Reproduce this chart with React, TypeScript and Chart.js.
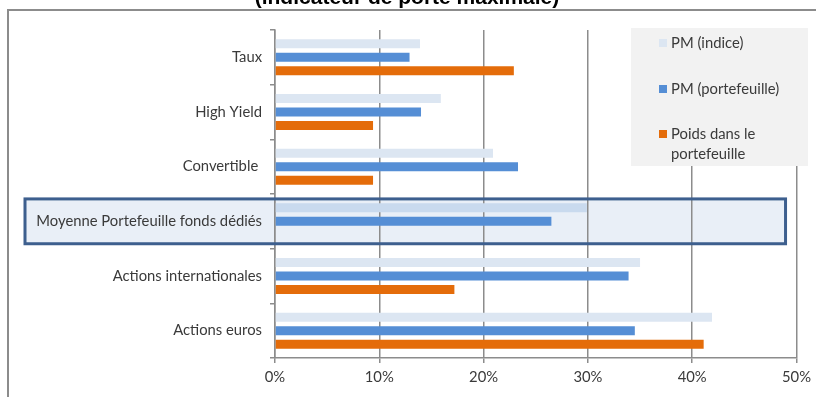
import React, { useEffect, useRef } from "react";
import { Chart, registerables } from "chart.js";

Chart.register(...registerables);

// Asset classes, top to bottom
const categories = [
  "Taux",
  "High Yield",
  "Convertible ",
  "Moyenne Portefeuille fonds dédiés",
  "Actions internationales",
  "Actions euros",
];

// Values in %
const pmIndice = [13.9, 15.9, 20.9, 29.9, 35.0, 41.9];
const pmPortefeuille = [12.9, 14.0, 23.3, 26.5, 33.9, 34.5];
const poidsPortefeuille: (number | null)[] = [22.9, 9.4, 9.4, null, 17.2, 41.1];

const seriesNames = ["PM (indice)", "PM (portefeuille)", "Poids dans le portefeuille"];
const legendLines = [["PM (indice)"], ["PM (portefeuille)"], ["Poids dans le", "portefeuille"]];
const xTickValues = [0, 10, 20, 30, 40, 50];
const chartTitle = "(indicateur de porte maximale)";
const highlightedCategory = "Moyenne Portefeuille fonds dédiés";

const COLORS = {
  indice: "#DCE6F2",
  indiceHighlight: "#C9DAEE",
  portefeuille: "#558ED5",
  poids: "#E46C0A",
  grid: "#8C8C8C",
  text: "#3A3A3A",
  boxFill: "#E9EFF7",
  boxBorder: "#3D5F8E",
  legendFill: "#F2F2F2",
};

const FONT = "Lato, 'Open Sans', sans-serif";
const FONT_SIZE = 14.8;

const decorPlugin = {
  id: "decor",
  beforeDraw(chart: any) {
    const { ctx, width, height } = chart;
    const y = chart.scales.y;
    const x = chart.scales.x;
    ctx.save();
    ctx.fillStyle = "#FFFFFF";
    ctx.fillRect(0, 0, width, height);
    // highlighted row background
    const idx = categories.indexOf(highlightedCategory);
    const cy = y.getPixelForValue(idx);
    const half = (y.height / categories.length) * 0.41;
    ctx.fillStyle = COLORS.boxFill;
    ctx.fillRect(25, cy - half, x.getPixelForValue(48.95) - 25, half * 2);
    ctx.restore();
  },
  afterDatasetsDraw(chart: any) {
    const { ctx } = chart;
    const y = chart.scales.y;
    const x = chart.scales.x;
    ctx.save();
    const idx = categories.indexOf(highlightedCategory);
    const cy = y.getPixelForValue(idx);
    const half = (y.height / categories.length) * 0.41;
    ctx.strokeStyle = COLORS.boxBorder;
    ctx.lineWidth = 3;
    ctx.strokeRect(25, cy - half, x.getPixelForValue(48.95) - 25, half * 2);
    ctx.restore();
  },
  afterDraw(chart: any) {
    const { ctx } = chart;
    ctx.save();
    // outer frame
    ctx.strokeStyle = COLORS.grid;
    ctx.lineWidth = 2;
    ctx.strokeRect(8, 10, 830, 420);

    // title, partly above the top edge
    ctx.fillStyle = "#000000";
    ctx.font = "bold 21px 'Liberation Sans', Arial, sans-serif";
    ctx.textAlign = "center";
    ctx.textBaseline = "alphabetic";
    ctx.fillText(chartTitle, 407, 4);

    // legend
    const lx = 631, ly = 28, lw = 177, lh = 138;
    ctx.fillStyle = COLORS.legendFill;
    ctx.fillRect(lx, ly, lw, lh);
    const swatches = [COLORS.indice, COLORS.portefeuille, COLORS.poids];
    const rowY = [43, 89, 134];
    ctx.font = `${FONT_SIZE}px ${FONT}`;
    ctx.textAlign = "left";
    ctx.textBaseline = "middle";
    legendLines.forEach((lines, i) => {
      ctx.fillStyle = swatches[i];
      ctx.fillRect(659, rowY[i] - 4, 8, 8);
      ctx.fillStyle = COLORS.text;
      lines.forEach((t, j) => ctx.fillText(t, 671, rowY[i] + j * 20));
    });
    ctx.restore();
  },
};

export default function App() {
  const canvasRef = useRef<HTMLCanvasElement | null>(null);

  useEffect(() => {
    document.body.style.margin = "0";
    const canvas = canvasRef.current;
    if (!canvas) return;
    const hiIdx = categories.indexOf(highlightedCategory);
    const chart = new Chart(canvas, {
      type: "bar",
      data: {
        labels: categories,
        datasets: [
          {
            label: seriesNames[0],
            data: pmIndice,
            backgroundColor: categories.map((_, i) => (i === hiIdx ? COLORS.indiceHighlight : COLORS.indice)),
          },
          {
            label: seriesNames[1],
            data: pmPortefeuille,
            backgroundColor: COLORS.portefeuille,
          },
          {
            label: seriesNames[2],
            data: poidsPortefeuille,
            backgroundColor: COLORS.poids,
          },
        ],
      },
      options: {
        indexAxis: "y",
        responsive: false,
        animation: false,
        devicePixelRatio: 1,
        layout: { padding: { top: 30, right: 16, bottom: 0, left: 0 } },
        datasets: {
          bar: { categoryPercentage: 0.74, barPercentage: 0.67 },
        },
        plugins: {
          legend: { display: false },
          title: { display: false },
          tooltip: { enabled: false },
        },
        scales: {
          x: {
            min: 0,
            max: 50,
            afterBuildTicks: (s: any) => {
              s.ticks = xTickValues.map((v) => ({ value: v }));
            },
            afterFit: (s: any) => {
              s.height = 39;
            },
            grid: { color: COLORS.grid, lineWidth: 1.5, tickLength: 5 },
            border: { display: true, color: COLORS.grid, width: 1.5 },
            ticks: {
              padding: 5,
              color: COLORS.text,
              font: { family: FONT, size: FONT_SIZE },
              callback: (v: any) => `${v}%`,
            },
          },
          y: {
            afterFit: (s: any) => {
              s.width = 275;
            },
            grid: { drawOnChartArea: false, tickLength: 5, color: COLORS.grid, lineWidth: 1.5 },
            border: { display: true, color: COLORS.grid, width: 1.5 },
            ticks: {
              padding: 8,
              color: COLORS.text,
              font: { family: FONT, size: FONT_SIZE },
            },
          },
        },
      },
      plugins: [decorPlugin],
    });
    return () => chart.destroy();
  }, []);

  return (
    <div style={{ position: "absolute", left: 0, top: 0, width: 816, height: 397 }}>
      <canvas ref={canvasRef} width={816} height={397} style={{ display: "block" }} />
    </div>
  );
}
